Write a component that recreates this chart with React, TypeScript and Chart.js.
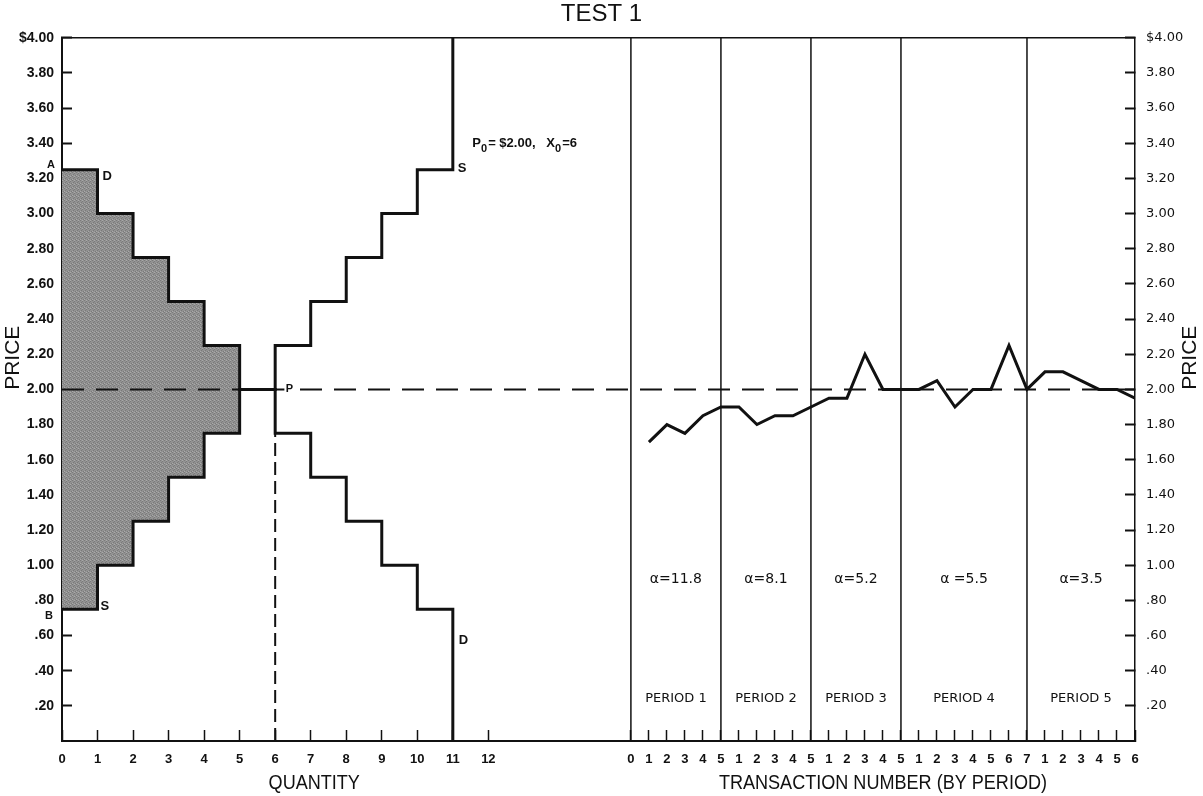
import { useEffect, useRef } from 'react';
import { Chart, registerables } from 'chart.js';

Chart.register(...registerables);

// ---------------- data ----------------
// Left panel: quantity axis
const QUANTITY_TICKS = [0, 1, 2, 3, 4, 5, 6, 7, 8, 9, 10, 11, 12];
const QUANTITY_TICK_LABELS = ['0', '1', '2', '3', '4', '5', '6', '7', '8', '9', '10', '11', '12'];
// Step curves: price holding from quantity q to q+1 (last entry = end of the final vertical)
const STEP_QUANTITIES = [0, 1, 2, 3, 4, 5, 6, 7, 8, 9, 10, 11];
const DEMAND_PRICES = [3.25, 3.0, 2.75, 2.5, 2.25, 2.0, 1.75, 1.5, 1.25, 1.0, 0.75, 0];
const SUPPLY_PRICES = [0.75, 1.0, 1.25, 1.5, 1.75, 2.0, 2.25, 2.5, 2.75, 3.0, 3.25, 4.0];
const SURPLUS_LAST_QUANTITY = 5;
const EQ_PRICE = 2.0;
const EQ_QUANTITY = 6;

// Right panel: transactions
const TRANSACTION_NUMBERS = [1, 2, 3, 4, 5, 6, 7, 8, 9, 10, 11, 12, 13, 14, 15, 16, 17, 18, 19, 20, 21, 22, 23, 24, 25, 26, 27, 28];
const TRANSACTION_PRICES = [
  1.70, 1.80, 1.75, 1.85, 1.90,
  1.90, 1.80, 1.85, 1.85, 1.90,
  1.95, 1.95, 2.20, 2.00, 2.00,
  2.00, 2.05, 1.90, 2.00, 2.00, 2.25, 2.00,
  2.10, 2.10, 2.05, 2.00, 2.00, 1.95,
];
const TRANSACTION_TICK_LABELS = [
  '0', '1', '2', '3', '4', '5', '1', '2', '3', '4', '5', '1', '2', '3', '4', '5',
  '1', '2', '3', '4', '5', '6', '7', '1', '2', '3', '4', '5', '6',
];
const PERIOD_BOUNDARIES = [0, 5, 10, 15, 22, 28];
const PERIOD_LABELS = ['PERIOD 1', 'PERIOD 2', 'PERIOD 3', 'PERIOD 4', 'PERIOD 5'];
const ALPHA_LABELS = ['α=11.8', 'α=8.1', 'α=5.2', 'α =5.5', 'α=3.5'];

// Price axis
const PRICE_TICKS = [0.2, 0.4, 0.6, 0.8, 1.0, 1.2, 1.4, 1.6, 1.8, 2.0, 2.2, 2.4, 2.6, 2.8, 3.0, 3.2, 3.4, 3.6, 3.8, 4.0];
const PRICE_TICK_LABELS = ['.20', '.40', '.60', '.80', '1.00', '1.20', '1.40', '1.60', '1.80', '2.00', '2.20', '2.40', '2.60', '2.80', '3.00', '3.20', '3.40', '3.60', '3.80', '$4.00'];

// ---------------- scale geometry ----------------
const Q_MAX = 30.2;
const T_MIN = -31.6;
const T_MAX = 28;
const P_MAX = 4;

const INK = '#111111';
const SANS = "'Liberation Sans', Arial, Helvetica, sans-serif";
const GEO = "'DejaVu Sans', Verdana, sans-serif";

const tToQ = (t: number) => ((t - T_MIN) / (T_MAX - T_MIN)) * Q_MAX;
const X_TICK_LABELS = [...QUANTITY_TICK_LABELS, ...TRANSACTION_TICK_LABELS];

function put(ctx: CanvasRenderingContext2D, s: string, x: number, y: number, font: string, align: CanvasTextAlign = 'center', baseline: CanvasTextBaseline = 'middle') {
  ctx.font = font;
  ctx.textAlign = align;
  ctx.textBaseline = baseline;
  ctx.fillStyle = INK;
  ctx.fillText(s, x, y);
}

const annotationPlugin = {
  id: 'annotations',
  afterDatasetsDraw(chart: any) {
    const ctx: CanvasRenderingContext2D = chart.ctx;
    const xs = chart.scales.x;
    const xt = chart.scales.xt;
    const ys = chart.scales.y;
    const area = chart.chartArea;
    const X = (q: number) => xs.getPixelForValue(q);
    const T = (t: number) => xt.getPixelForValue(t);
    const Y = (p: number) => ys.getPixelForValue(p);
    ctx.save();

    // top frame
    ctx.strokeStyle = INK;
    ctx.lineWidth = 1.5;
    ctx.beginPath();
    ctx.moveTo(area.left, area.top);
    ctx.lineTo(area.right, area.top);
    ctx.stroke();

    const small = `bold 11px ${SANS}`;
    const mid = `bold 13px ${SANS}`;
    // curve end markers
    put(ctx, 'A', X(0) - 7, Y(3.25) + 1, small, 'right', 'bottom');
    put(ctx, 'B', X(0) - 9, Y(0.75) + 1, small, 'right', 'top');
    put(ctx, 'D', X(1) + 5, Y(3.25) + 7, mid, 'left', 'middle');
    put(ctx, 'S', X(1) + 3, Y(0.75) - 3, mid, 'left', 'middle');
    put(ctx, 'S', X(11) + 5, Y(3.25) - 1, mid, 'left', 'middle');
    put(ctx, 'D', X(11) + 6, Y(0.57), mid, 'left', 'middle');

    // P on the equilibrium line
    const px = X(6.4);
    const py = Y(EQ_PRICE);
    ctx.fillStyle = '#ffffff';
    ctx.fillRect(px - 5, py - 7, 10, 14);
    put(ctx, 'P', px, py, `bold 11px ${SANS}`, 'center', 'middle');

    // P0 = $2.00, X0 = 6
    let cx = X(11.55);
    const by = Y(3.38);
    const parts: [string, boolean][] = [['P', false], ['0', true], ['= $2.00,   X', false], ['0', true], ['=6', false]];
    ctx.textAlign = 'left';
    ctx.textBaseline = 'alphabetic';
    ctx.fillStyle = INK;
    for (const [s, sub] of parts) {
      ctx.font = sub ? `bold 11px ${SANS}` : `bold 13px ${SANS}`;
      ctx.fillText(s, cx, by + (sub ? 5 : 0));
      cx += ctx.measureText(s).width + (sub ? 1 : 0);
    }

    // period annotations
    for (let i = 0; i < PERIOD_LABELS.length; i++) {
      const c = T((PERIOD_BOUNDARIES[i] + PERIOD_BOUNDARIES[i + 1]) / 2);
      put(ctx, ALPHA_LABELS[i], c, Y(0.92), `14px ${GEO}`);
      put(ctx, PERIOD_LABELS[i], c, Y(0.24), `13px ${GEO}`);
    }

    // axis titles
    const titleFont = `21px ${SANS}`;
    ctx.save();
    ctx.translate(X(7.1), area.bottom + 42);
    ctx.scale(0.86, 1);
    put(ctx, 'QUANTITY', 0, 0, titleFont);
    ctx.restore();
    ctx.save();
    ctx.translate(T(14), area.bottom + 42);
    ctx.scale(0.86, 1);
    put(ctx, 'TRANSACTION NUMBER (BY PERIOD)', 0, 0, titleFont);
    ctx.restore();

    for (const x of [13, 1190]) {
      ctx.save();
      ctx.translate(x, Y(2.18));
      ctx.rotate(-Math.PI / 2);
      put(ctx, 'PRICE', 0, 0, `21px ${SANS}`);
      ctx.restore();
    }
    ctx.restore();
  },
};

function makeShade(ctx: CanvasRenderingContext2D): CanvasPattern | string {
  const pc = document.createElement('canvas');
  pc.width = 4;
  pc.height = 4;
  const p = pc.getContext('2d');
  if (!p) return '#909090';
  p.fillStyle = '#929292';
  p.fillRect(0, 0, 4, 4);
  p.fillStyle = '#7a7a7a';
  p.fillRect(0, 0, 1, 1);
  p.fillRect(2, 1, 1, 1);
  p.fillRect(1, 2, 1, 1);
  p.fillRect(3, 3, 1, 1);
  p.fillStyle = '#aaaaaa';
  p.fillRect(2, 0, 1, 1);
  p.fillRect(0, 3, 1, 1);
  return ctx.createPattern(pc, 'repeat') || '#909090';
}

export default function App() {
  const canvasRef = useRef<HTMLCanvasElement | null>(null);

  useEffect(() => {
    const canvas = canvasRef.current;
    if (!canvas) return;
    const ctx = canvas.getContext('2d');
    if (!ctx) return;
    const shade = makeShade(ctx);

    const stepPoints = (prices: number[]) => STEP_QUANTITIES.map((q, i) => ({ x: q, y: prices[i] }));
    const surplus = (prices: number[]) =>
      STEP_QUANTITIES.filter((q) => q <= SURPLUS_LAST_QUANTITY).map((q, i) => ({ x: q, y: prices[i] }));

    const base = { pointRadius: 0, borderColor: INK, fill: false, tension: 0 };

    const periodLines = PERIOD_BOUNDARIES.slice(0, -1).map((b) => ({
      ...base,
      data: [{ x: b, y: 0 }, { x: b, y: P_MAX }],
      xAxisID: 'xt',
      yAxisID: 'y',
      borderWidth: 1.5,
      order: 3,
    }));

    const chart = new Chart(canvas, {
      type: 'line',
      data: {
        datasets: [
          {
            ...base,
            data: surplus(DEMAND_PRICES),
            stepped: 'before',
            borderColor: 'rgba(0,0,0,0)',
            borderWidth: 0,
            backgroundColor: shade as any,
            fill: '+1',
            xAxisID: 'x',
            yAxisID: 'y',
            order: 10,
          },
          {
            ...base,
            data: surplus(SUPPLY_PRICES),
            stepped: 'before',
            borderColor: 'rgba(0,0,0,0)',
            borderWidth: 0,
            xAxisID: 'x',
            yAxisID: 'y',
            order: 10,
          },
          {
            ...base,
            data: stepPoints(DEMAND_PRICES),
            stepped: 'before',
            borderWidth: 3,
            xAxisID: 'x',
            yAxisID: 'y',
            order: 1,
          },
          {
            ...base,
            data: stepPoints(SUPPLY_PRICES),
            stepped: 'before',
            borderWidth: 3,
            xAxisID: 'x',
            yAxisID: 'y',
            order: 1,
          },
          {
            ...base,
            data: [{ x: 0, y: EQ_PRICE }, { x: Q_MAX, y: EQ_PRICE }],
            borderWidth: 2,
            borderDash: [22, 12],
            xAxisID: 'x',
            yAxisID: 'y',
            order: 2,
          },
          {
            ...base,
            data: [{ x: EQ_QUANTITY, y: 0 }, { x: EQ_QUANTITY, y: DEMAND_PRICES[EQ_QUANTITY] }],
            borderWidth: 2,
            borderDash: [13, 6],
            xAxisID: 'x',
            yAxisID: 'y',
            order: 2,
          },
          ...periodLines,
          {
            ...base,
            data: TRANSACTION_NUMBERS.map((t, i) => ({ x: t, y: TRANSACTION_PRICES[i] })),
            borderWidth: 3,
            borderJoinStyle: 'miter',
            xAxisID: 'xt',
            yAxisID: 'y',
            order: 1,
          },
        ] as any,
      },
      options: {
        animation: false,
        responsive: true,
        maintainAspectRatio: false,
        events: [],
        layout: { padding: 0 },
        plugins: {
          legend: { display: false },
          tooltip: { enabled: false },
          title: {
            display: true,
            text: 'TEST 1',
            color: INK,
            font: { family: SANS, size: 24, weight: 'normal' },
            padding: { top: 0, bottom: 9 },
          },
        },
        scales: {
          x: {
            type: 'linear',
            position: 'bottom',
            min: 0,
            max: Q_MAX,
            afterBuildTicks: (scale: any) => {
              scale.ticks = [
                ...QUANTITY_TICKS.map((v) => ({ value: v })),
                ...TRANSACTION_TICK_LABELS.map((_, t) => ({ value: tToQ(t) })),
              ];
            },
            afterFit: (scale: any) => {
              scale.height = 55;
            },
            ticks: {
              autoSkip: false,
              maxRotation: 0,
              padding: 22,
              color: INK,
              font: { family: SANS, size: 13, weight: 'bold' },
              callback: (_v: any, i: number) => X_TICK_LABELS[i],
            },
            grid: { drawOnChartArea: false, drawTicks: true, tickLength: -11, tickWidth: 1.5, tickColor: INK },
            border: { display: true, color: INK, width: 2 },
          },
          xt: {
            type: 'linear',
            display: false,
            min: T_MIN,
            max: T_MAX,
          },
          y: {
            type: 'linear',
            position: 'left',
            min: 0,
            max: P_MAX,
            afterBuildTicks: (scale: any) => {
              scale.ticks = PRICE_TICKS.map((v) => ({ value: v }));
            },
            afterFit: (scale: any) => {
              scale.width = 62;
            },
            ticks: {
              autoSkip: false,
              padding: 18,
              color: INK,
              font: { family: SANS, size: 14, weight: 'bold' },
              callback: (_v: any, i: number) => PRICE_TICK_LABELS[i],
            },
            grid: { drawOnChartArea: false, drawTicks: true, tickLength: -10, tickWidth: 2, tickColor: INK },
            border: { display: true, color: INK, width: 2 },
          },
          yR: {
            type: 'linear',
            position: 'right',
            min: 0,
            max: P_MAX,
            afterBuildTicks: (scale: any) => {
              scale.ticks = PRICE_TICKS.map((v) => ({ value: v }));
            },
            afterFit: (scale: any) => {
              scale.width = 68;
            },
            ticks: {
              autoSkip: false,
              padding: 21,
              color: INK,
              font: { family: GEO, size: 13 },
              callback: (_v: any, i: number) => PRICE_TICK_LABELS[i],
            },
            grid: { drawOnChartArea: false, drawTicks: true, tickLength: -10, tickWidth: 2, tickColor: INK },
            border: { display: true, color: INK, width: 1.5 },
          },
        },
      } as any,
      plugins: [annotationPlugin],
    });

    return () => chart.destroy();
  }, []);

  return (
    <div style={{ position: 'fixed', left: 0, top: 0, width: 1203, height: 796, background: '#ffffff' }}>
      <canvas ref={canvasRef} />
    </div>
  );
}
